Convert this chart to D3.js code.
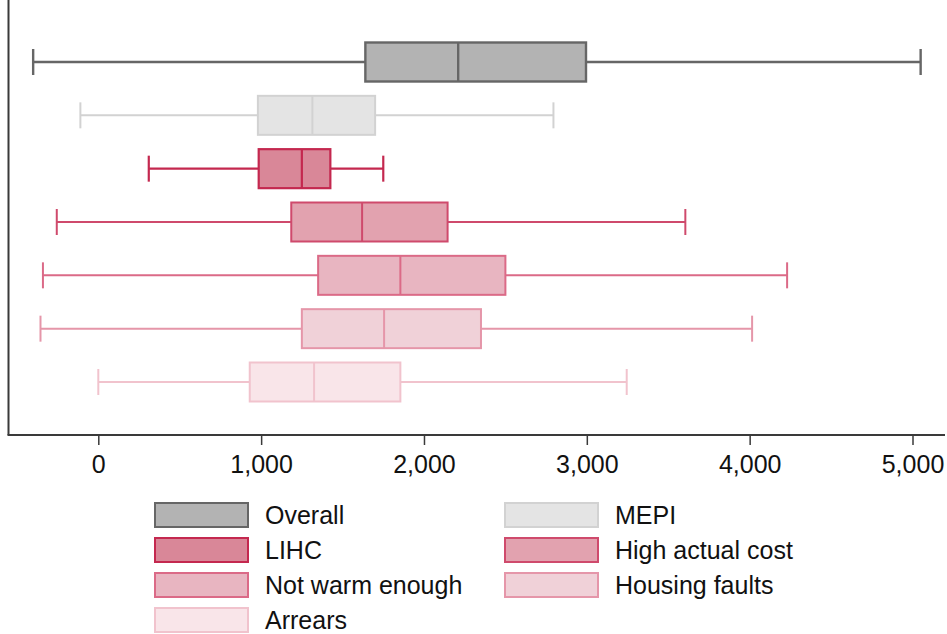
<!DOCTYPE html>
<html>
<head>
<meta charset="utf-8">
<script src="https://cdn.jsdelivr.net/npm/d3@7"></script>
<style>
  html, body { margin: 0; padding: 0; background: #fff; }
  svg { display: block; font-family: "Liberation Sans", Arial, sans-serif; }
</style>
</head>
<body>
<svg id="chart" width="947" height="634"></svg>
<script>
// Groups, top to bottom
const groups = ["Overall", "MEPI", "LIHC", "High actual cost", "Not warm enough", "Housing faults", "Arrears"];
// Five-number summaries per group
const whiskerLow  = [-400, -110, 310, -255, -340, -355, 0];
const q1          = [1640, 980, 985, 1185, 1350, 1250, 930];
const medians     = [2210, 1315, 1250, 1620, 1855, 1755, 1325];
const q3          = [2995, 1700, 1425, 2145, 2500, 2350, 1855];
const whiskerHigh = [5050, 2795, 1750, 3605, 4230, 4015, 3245];
// Axis ticks
const tickValues = [0, 1000, 2000, 3000, 4000, 5000];
// Legend entries (reading order, two columns)
const legendOrder = ["Overall", "MEPI", "LIHC", "High actual cost", "Not warm enough", "Housing faults", "Arrears"];

const fills   = ["#b3b3b3", "#e4e4e4", "#d98798", "#e2a2af", "#e8b5c1", "#f0d1d8", "#f9e5e9"];
const strokes = ["#666666", "#d2d2d2", "#c4284f", "#cf4a6c", "#db6a87", "#e596a9", "#f1c3cd"];
const strokeW = [2.4, 2, 2.2, 2, 2, 2, 2];

const svg = d3.select("#chart");

const x = d3.scaleLinear().domain([0, 5000]).range([98.3, 912.5]);
const y = d3.scalePoint().domain(groups).range([62, 382]);

const boxH = 39, capH = 26;

const data = groups.map((g, i) => ({
  g, i,
  lo: whiskerLow[i], q1: q1[i], med: medians[i], q3: q3[i], hi: whiskerHigh[i]
}));

const rows = svg.append("g").selectAll("g").data(data).join("g")
  .attr("stroke", d => strokes[d.i])
  .attr("stroke-width", d => strokeW[d.i]);

// whiskers
rows.append("line")
  .attr("x1", d => x(d.lo)).attr("x2", d => x(d.q1))
  .attr("y1", d => y(d.g)).attr("y2", d => y(d.g));
rows.append("line")
  .attr("x1", d => x(d.q3)).attr("x2", d => x(d.hi))
  .attr("y1", d => y(d.g)).attr("y2", d => y(d.g));
// caps
rows.append("line")
  .attr("x1", d => x(d.lo)).attr("x2", d => x(d.lo))
  .attr("y1", d => y(d.g) - capH / 2).attr("y2", d => y(d.g) + capH / 2);
rows.append("line")
  .attr("x1", d => x(d.hi)).attr("x2", d => x(d.hi))
  .attr("y1", d => y(d.g) - capH / 2).attr("y2", d => y(d.g) + capH / 2);
// boxes
rows.append("rect")
  .attr("x", d => x(d.q1)).attr("width", d => x(d.q3) - x(d.q1))
  .attr("y", d => y(d.g) - boxH / 2).attr("height", boxH)
  .attr("fill", d => fills[d.i]);
// medians
rows.append("line")
  .attr("x1", d => x(d.med)).attr("x2", d => x(d.med))
  .attr("y1", d => y(d.g) - boxH / 2).attr("y2", d => y(d.g) + boxH / 2);

// axes frame
const axisY = 435;
svg.append("line")
  .attr("x1", 8.5).attr("x2", 8.5).attr("y1", 0).attr("y2", axisY)
  .attr("stroke", "#3a3a3a").attr("stroke-width", 2);

const xAxis = d3.axisBottom(x)
  .tickValues(tickValues)
  .tickSize(10)
  .tickPadding(10)
  .tickFormat(d3.format(","));

const gx = svg.append("g")
  .attr("transform", `translate(0,${axisY})`)
  .call(xAxis);
gx.select(".domain").remove();
gx.append("line")
  .attr("x1", 7.5).attr("x2", 945).attr("y1", 0).attr("y2", 0)
  .attr("stroke", "#3a3a3a").attr("stroke-width", 2);
gx.selectAll(".tick line").attr("stroke", "#3a3a3a").attr("stroke-width", 1.5);
gx.selectAll(".tick text")
  .attr("fill", "#111")
  .style("font-size", "25px")
  .style("font-family", "'Liberation Sans', Arial, sans-serif");

// legend
const legend = svg.append("g");
const colX = [155, 505];
const rowY = [515, 550, 585, 620];
const items = legend.selectAll("g").data(legendOrder).join("g")
  .attr("transform", (d, k) => `translate(${colX[k % 2]},${rowY[Math.floor(k / 2)]})`);
items.append("rect")
  .attr("x", 0).attr("y", -12).attr("width", 93).attr("height", 24)
  .attr("fill", d => fills[groups.indexOf(d)])
  .attr("stroke", d => strokes[groups.indexOf(d)])
  .attr("stroke-width", 2);
items.append("text")
  .attr("x", 110).attr("y", 9)
  .attr("fill", "#111")
  .style("font-size", "25px")
  .text(d => d);
</script>
</body>
</html>
